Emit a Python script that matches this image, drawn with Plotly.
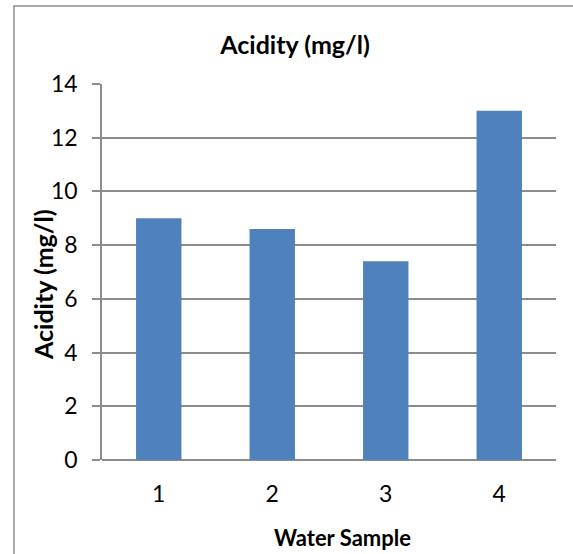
import plotly.graph_objects as go

samples = ["1", "2", "3", "4"]
acidity = [9, 8.6, 7.4, 13]
y_ticks = [0, 2, 4, 6, 8, 10, 12, 14]

FONT = "Lato, Open Sans, sans-serif"
GRID = "#8c8c8c"

fig = go.Figure(
    go.Bar(x=samples, y=acidity, marker=dict(color="#4f81bd", line=dict(width=0)), width=0.4)
)

fig.update_layout(
    width=573,
    height=554,
    margin=dict(l=102, r=17, t=84, b=94),
    paper_bgcolor="white",
    plot_bgcolor="white",
    showlegend=False,
    title=dict(
        text="<b>Acidity (mg/l)</b>",
        x=295 / 573,
        xanchor="center",
        y=1 - 45 / 554,
        yanchor="middle",
        font=dict(family=FONT, size=25, color="black"),
    ),
    font=dict(family=FONT, color="black"),
)

fig.update_xaxes(
    type="category",
    showgrid=False,
    showline=False,
    ticks="",
    tickfont=dict(family=FONT, size=23, color="black"),
    ticklabelstandoff=18,
)

fig.update_yaxes(
    range=[0, 14],
    tickvals=y_ticks,
    showgrid=True,
    gridcolor=GRID,
    gridwidth=1.5,
    zeroline=True,
    zerolinecolor=GRID,
    zerolinewidth=1.5,
    showline=True,
    linecolor=GRID,
    linewidth=1.5,
    ticks="outside",
    ticklen=8,
    tickcolor=GRID,
    tickwidth=1.5,
    tickfont=dict(family=FONT, size=23, color="black"),
    ticklabelstandoff=10,
)

# axis titles
fig.add_annotation(
    text="<b>Water Sample</b>",
    xref="paper", yref="paper",
    x=(342 - 102) / 454, y=(460 - 537) / 376,
    xanchor="center", yanchor="middle",
    showarrow=False,
    font=dict(family=FONT, size=22, color="black"),
)
fig.add_annotation(
    text="<b>Acidity (mg/l)</b>",
    xref="paper", yref="paper",
    x=(43 - 102) / 454, y=(460 - 284) / 376,
    xanchor="center", yanchor="middle",
    textangle=-90,
    showarrow=False,
    font=dict(family=FONT, size=25, color="black"),
)

# chart area border
fig.add_shape(
    type="rect",
    xref="paper",
    yref="paper",
    x0=(14 - 102) / 454,
    x1=1.2,
    y0=-0.4,
    y1=1 + (84 - 6) / 376,
    line=dict(color="#8c8c8c", width=1.5),
    fillcolor="rgba(0,0,0,0)",
    layer="below",
)

fig.write_html("out.html")
